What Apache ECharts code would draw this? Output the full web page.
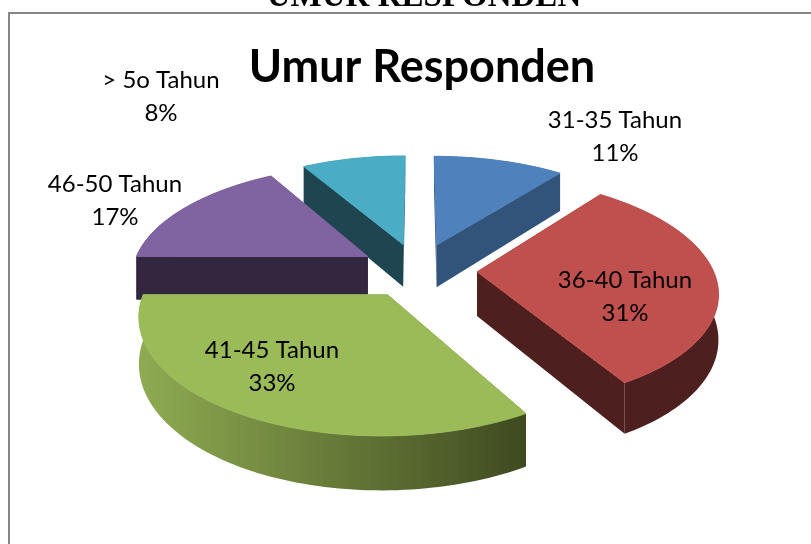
<!DOCTYPE html>
<html>
<head>
<meta charset="utf-8">
<style>
  html, body { margin: 0; padding: 0; background: #fff; }
  #chart { width: 811px; height: 544px; }
</style>
<script src="https://cdn.jsdelivr.net/npm/echarts@6/dist/echarts.min.js"></script>
</head>
<body>
<div id="chart"></div>
<script>
var categories = ["31-35 Tahun", "36-40 Tahun", "41-45 Tahun", "46-50 Tahun", "> 5o Tahun"];
var values = [10.6, 31, 33.4, 16.6, 8.4]; // read from the slice edges, labels round them
var topColors = ["#4f81bd", "#c0504d", "#9bbb59", "#8064a2", "#4bacc6"];
var cutColors = ["#32547b", "#4d1f1e", "#3f4a20", "#33263f", "#1f4650"];
var wallColors = [
  ["#32547b", "#32547b"],
  ["#4d1f1e", "#4d1f1e"],
  ["#8fab52", "#3f4a20"],
  ["#33263f", "#33263f"],
  ["#1f4650", "#1f4650"]
];
var drawOrder = [1, 3, 5, 4, 2]; // back slices first, green on top

// projection of the tilted disc
var CX = 418, CY = 270, RX = 236, RY = 110;
var EXPLODE = 0.25, PERSP = 6.3, DEPTH = 44;

var total = values.reduce(function (a, b) { return a + b; }, 0);

function project(u, v, down) {
  var s = PERSP / (PERSP - v);
  return [CX + RX * u * s, CY + RY * v * s + (down ? DEPTH * s : 0)];
}

function renderSlice(params, api) {
  var i = params.dataIndex;
  var before = 0;
  for (var k = 0; k < i; k++) before += values[k];
  // angles clockwise from 12 o'clock
  var a0 = before / total * Math.PI * 2;
  var a1 = (before + api.value(0)) / total * Math.PI * 2;
  var mid = (a0 + a1) / 2;
  var ou = EXPLODE * Math.sin(mid), ov = -EXPLODE * Math.cos(mid);

  var rimTop = [], rimBottom = [];
  var n = Math.max(8, Math.round((a1 - a0) * 40));
  for (var j = 0; j <= n; j++) {
    var a = a0 + (a1 - a0) * j / n;
    var u = ou + Math.sin(a), v = ov - Math.cos(a);
    rimTop.push(project(u, v, false));
    rimBottom.push(project(u, v, true));
  }
  var apexTop = project(ou, ov, false);
  var apexBottom = project(ou, ov, true);
  var z = drawOrder[i] * 10;

  function poly(points, fill, z2, stroke) {
    return { type: "polygon", shape: { points: points }, z2: z2, style: { fill: fill, stroke: stroke, lineWidth: 1 } };
  }
  var wallFill = new echarts.graphic.LinearGradient(0, 0, 1, 0, [
    { offset: 0, color: wallColors[i][0] },
    { offset: 1, color: wallColors[i][1] }
  ]);
  return {
    type: "group",
    children: [
      poly([apexTop, rimTop[0], rimBottom[0], apexBottom], cutColors[i], z, null),
      poly([apexTop, rimTop[n], rimBottom[n], apexBottom], cutColors[i], z, null),
      poly(rimTop.concat(rimBottom.slice().reverse()), wallFill, z + 1, null),
      poly([apexTop].concat(rimTop), topColors[i], z + 2, topColors[i])
    ]
  };
}

var labelFont = { fontFamily: "Lato", fontSize: 24, lineHeight: 33, fill: "#000", align: "center", verticalAlign: "middle" };
function sliceLabel(i, x, y) {
  return {
    type: "text", x: x, y: y, z: 10,
    style: Object.assign({ text: categories[i] + "\n" + Math.round(values[i]) + "%" }, labelFont)
  };
}

var chart = echarts.init(document.getElementById("chart"));
chart.setOption({
  animation: false,
  backgroundColor: "#fff",
  title: {
    text: "Umur Responden",
    left: 417, top: 40, textAlign: "center",
    textStyle: { fontFamily: "Lato", fontWeight: "bold", fontSize: 45, color: "#000" }
  },
  graphic: [
    { type: "polyline", z: 0, shape: { points: [[9, 544], [9, 13], [811, 13]] }, style: { fill: null, stroke: "#868686", lineWidth: 2 } },
    { type: "text", x: 424, y: -3, z: 10, style: { text: "UMUR RESPONDEN", fontFamily: "Liberation Serif", fontWeight: "bold", fontSize: 33, fill: "#000", align: "center", verticalAlign: "middle" } },
    sliceLabel(0, 615, 137),
    sliceLabel(1, 625, 297),
    sliceLabel(2, 272, 367),
    sliceLabel(3, 115, 201),
    sliceLabel(4, 161, 97)
  ],
  series: [{
    type: "custom",
    coordinateSystem: "none",
    silent: true,
    renderItem: renderSlice,
    data: values.map(function (v, i) { return { name: categories[i], value: [v] }; })
  }]
});
window.addEventListener("resize", function () { chart && chart.resize(); });
</script>
</body>
</html>
